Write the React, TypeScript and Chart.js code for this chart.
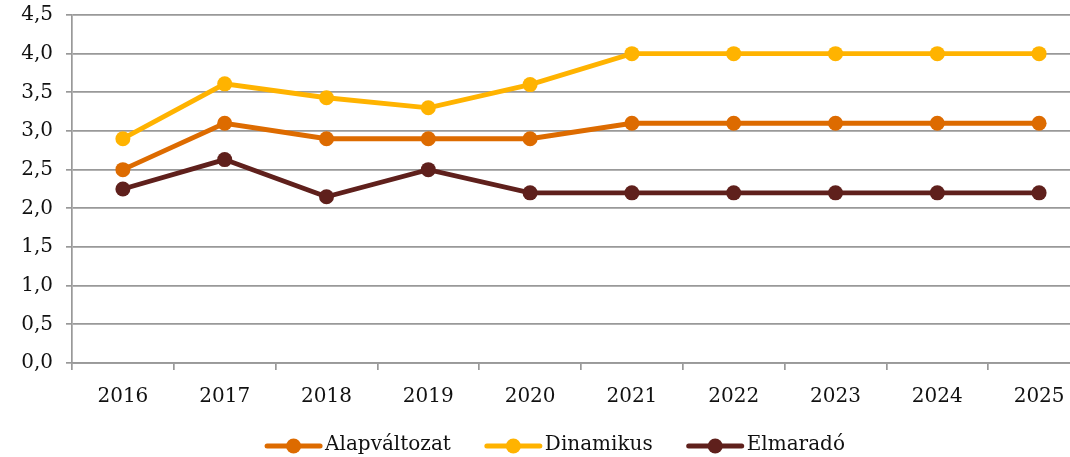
import React, { useEffect, useRef } from "react";
import { Chart, registerables } from "chart.js";

Chart.register(...registerables);

const years = ["2016", "2017", "2018", "2019", "2020", "2021", "2022", "2023", "2024", "2025"];
const alapValues = [2.5, 3.1, 2.9, 2.9, 2.9, 3.1, 3.1, 3.1, 3.1, 3.1];
const dinamikusValues = [2.9, 3.61, 3.43, 3.3, 3.6, 4.0, 4.0, 4.0, 4.0, 4.0];
const elmaradoValues = [2.25, 2.63, 2.15, 2.5, 2.2, 2.2, 2.2, 2.2, 2.2, 2.2];
const seriesNames = ["Alapváltozat", "Dinamikus", "Elmaradó"];
const seriesColors = ["#DD6B00", "#FFB300", "#5F201C"];

const FONT = "'DejaVu Serif', Georgia, serif";
const LEGEND_PAD = 3;
const LEGEND_GAP_EXTRA = 34 - LEGEND_PAD;
const MARKER_W = 57;
const LEGEND_SHIFT = 10 - LEGEND_GAP_EXTRA / 2;

const legendMarkerPlugin = {
  id: "legendMarker",
  afterLayout(chart: any) {
    const legend = chart.legend;
    if (!legend) return;
    legend.left += LEGEND_SHIFT;
    legend.right += LEGEND_SHIFT;
    (legend.legendHitBoxes || []).forEach((hb: any) => {
      hb.left += LEGEND_SHIFT;
    });
  },
  afterDraw(chart: any) {
    const legend = chart.legend;
    if (!legend || !legend.legendHitBoxes) return;
    const ctx = chart.ctx;
    legend.legendHitBoxes.forEach((hb: any, i: number) => {
      const color = seriesColors[i];
      const cy = hb.top + hb.height / 2 + 1;
      const x0 = hb.left + LEGEND_GAP_EXTRA;
      ctx.save();
      ctx.strokeStyle = color;
      ctx.lineWidth = 5;
      ctx.lineCap = "round";
      ctx.beginPath();
      ctx.moveTo(x0 + 2, cy);
      ctx.lineTo(x0 + MARKER_W - 2, cy);
      ctx.stroke();
      ctx.fillStyle = color;
      ctx.beginPath();
      ctx.arc(x0 + MARKER_W / 2, cy, 7.5, 0, Math.PI * 2);
      ctx.fill();
      ctx.restore();
    });
  },
};

export default function App() {
  const ref = useRef<HTMLCanvasElement | null>(null);

  useEffect(() => {
    document.body.style.margin = "0";
    document.body.style.overflow = "hidden";
    const canvas = ref.current;
    if (!canvas) return;
    const valueSets = [alapValues, dinamikusValues, elmaradoValues];
    const chart = new Chart(canvas, {
      type: "line",
      data: {
        labels: years,
        datasets: seriesNames.map((name, i) => ({
          label: name,
          data: valueSets[i],
          borderColor: seriesColors[i],
          backgroundColor: seriesColors[i],
          borderWidth: 4.8,
          pointRadius: 7.5,
          pointHoverRadius: 7.5,
          pointBackgroundColor: seriesColors[i],
          pointBorderWidth: 0,
          tension: 0,
          clip: false as any,
        })),
      },
      options: {
        animation: false,
        responsive: false,
        maintainAspectRatio: false,
        layout: { padding: { left: 0, right: 36, top: 0, bottom: -8 } },
        plugins: {
          tooltip: { enabled: false },
          legend: {
            position: "bottom",
            labels: {
              boxWidth: 50 + LEGEND_GAP_EXTRA,
              boxHeight: 14,
              padding: LEGEND_PAD,
              color: "#111",
              font: { family: FONT, size: 20 },
              generateLabels: (chart: any) =>
                chart.data.datasets.map((ds: any, i: number) => ({
                  text: ds.label,
                  fillStyle: "rgba(0,0,0,0)",
                  strokeStyle: "rgba(0,0,0,0)",
                  lineWidth: 0,
                  hidden: false,
                  datasetIndex: i,
                  fontColor: "#111",
                })),
            },
          },
        },
        scales: {
          x: {
            type: "category",
            offset: true,
            afterFit: (scale: any) => {
              scale.height = 69;
            },
            grid: {
              offset: true,
              drawOnChartArea: false,
              drawTicks: true,
              tickLength: 7,
              color: "#999",
              lineWidth: 1.7,
            },
            border: { display: true, color: "#999", width: 1.7 },
            ticks: {
              padding: 15,
              color: "#111",
              font: { family: FONT, size: 20 },
              maxRotation: 0,
            },
          },
          y: {
            min: 0,
            max: 4.5,
            afterFit: (scale: any) => {
              scale.width = 72;
              scale.paddingTop = 15;
              scale.paddingBottom = 0;
            },
            grid: {
              color: "#999",
              lineWidth: 1.7,
              drawTicks: true,
              tickLength: 6,
            },
            border: { display: true, color: "#999", width: 1.7 },
            ticks: {
              stepSize: 0.5,
              padding: 13,
              color: "#111",
              font: { family: FONT, size: 20 },
              callback: (v: any) => Number(v).toFixed(1).replace(".", ","),
            },
          },
        },
      },
      plugins: [legendMarkerPlugin],
    });
    return () => chart.destroy();
  }, []);

  return (
    <div style={{ width: 1070, height: 457, overflow: "hidden", position: "relative" }}>
      <canvas ref={ref} width={1126} height={457} style={{ display: "block", width: 1126, height: 457 }} />
    </div>
  );
}
